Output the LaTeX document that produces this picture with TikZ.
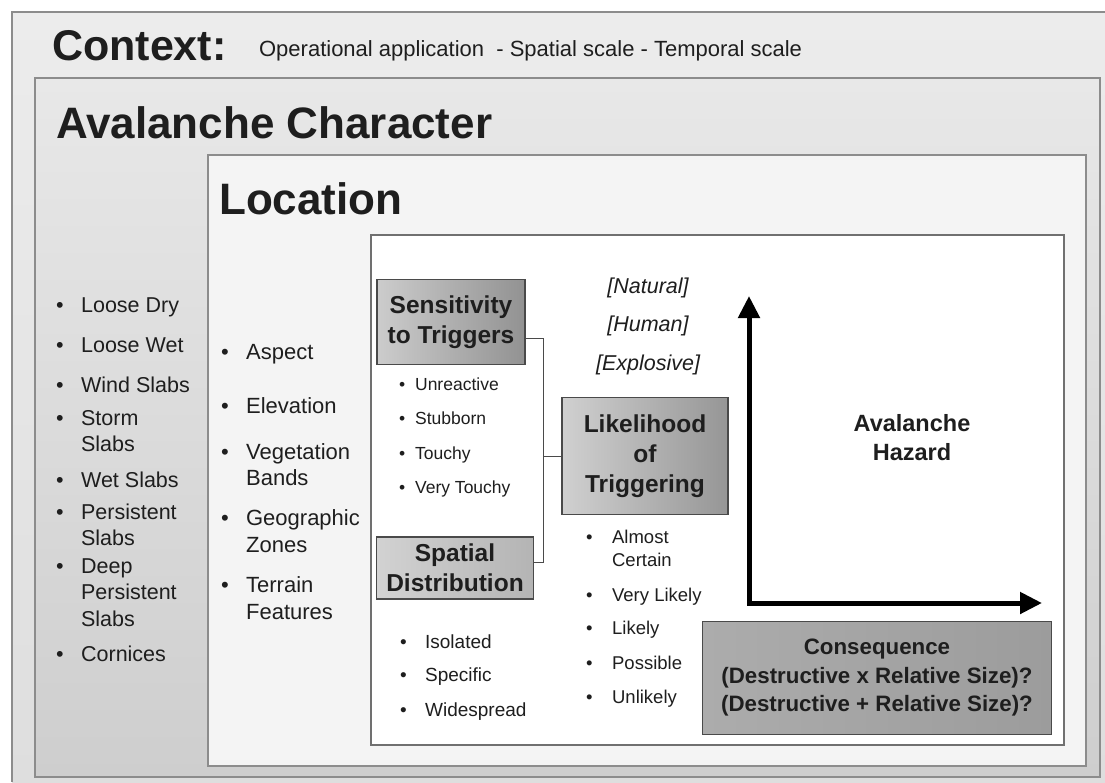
\documentclass[tikz,border=0pt]{standalone}
\usepackage{fontspec}
\setmainfont{Liberation Sans}
\usetikzlibrary{calc,arrows.meta}

\definecolor{rim}{HTML}{8C8C8C}
\definecolor{boxrim}{HTML}{4A4A4A}
\definecolor{ink}{HTML}{1E1E1E}

\tikzset{every picture/.style={line width=0.75pt}}
\tikzset{
  li/.style={anchor=base west, inner sep=0.75pt, text=ink, font=\fontsize{#1}{#1}\selectfont},
  ttl/.style={anchor=base west, inner sep=0.75pt, text=ink, font=\bfseries\fontsize{#1}{#1}\selectfont},
  bx/.style={draw=boxrim, line width=1.2pt, align=center, inner sep=0pt, text=ink,
    font=\bfseries\fontsize{24.5}{30}\selectfont},
  trg/.style={anchor=base, inner sep=0.75pt, text=ink, font=\itshape\fontsize{21.5}{25}\selectfont},
  link/.style={draw=boxrim, line width=1pt},
  axis/.style={line width=5pt, {Triangle[length=22pt,width=21pt]}-{Triangle[length=22pt,width=21pt]}}
}

\begin{document}
\begin{tikzpicture}[x=1pt,y=1pt,yscale=-1,xscale=1]
\useasboundingbox (0,0) rectangle (1105,782);

%Frames
\fill[white] (0,0) rectangle (1105,782);
\fill[top color={rgb,255:red,236;green,236;blue,236}, bottom color={rgb,255:red,222;green,222;blue,222}] (12,12) rectangle (1105,782);
\draw[rim, line width=1.2pt] (12,782) -- (12,12) -- (1105,12);
\draw[rim, line width=1.2pt, top color={rgb,255:red,232;green,232;blue,232}, bottom color={rgb,255:red,206;green,206;blue,206}] (35,78) rectangle (1100,777);
\draw[rim, line width=1.2pt, fill={rgb,255:red,244;green,244;blue,244}] (208,155) rectangle (1086,766);
\draw[rim!80!black, line width=1.2pt, fill=white] (371,235) rectangle (1064,745);

% Titles (y = baseline)
\node[ttl=43] (ctx) at (51,60) {Context:};
\node[li=22] (ctxsub) at (258,56) {Operational application \ - Spatial scale - Temporal scale};
\node[ttl=44] (avc) at (55,138) {Avalanche Character};
\node[ttl=44] (loc) at (218,214) {Location};

% Avalanche character list
\foreach \t/\y in {Loose Dry/305, Loose Wet/345, Wind Slabs/385, Storm/418, Slabs/444, Wet Slabs/480, Persistent/512, Slabs/538, Deep/566, Persistent/592, Slabs/619, Cornices/654}
  \node[li=21.5] (ch\y) at (80,\y+7.7) {\t};
\foreach \y in {305,345,385,418,480,512,566,654}
  \node[li=21.5] (chb\y) at (55,\y+7.7) {\textbullet};

% Location list
\foreach \t/\y in {Aspect/352, Elevation/406, Vegetation/452, Bands/478, Geographic/518, Zones/545, Terrain/585, Features/612}
  \node[li=22] (lc\y) at (245,\y+7.9) {\t};
\foreach \y in {352,406,452,518,585}
  \node[li=22] (lcb\y) at (220,\y+7.9) {\textbullet};

% Boxes
\node[bx, minimum width=148pt, minimum height=85pt, left color={rgb,255:red,204;green,204;blue,204}, right color={rgb,255:red,146;green,146;blue,146}] (sens) at (451,322) {Sensitivity\\to Triggers};
\node[bx, minimum width=166pt, minimum height=117pt, left color={rgb,255:red,208;green,208;blue,208}, right color={rgb,255:red,150;green,150;blue,150}] (likely) at (645,456) {Likelihood\\of\\Triggering};
\node[bx, minimum width=157pt, minimum height=62pt, left color={rgb,255:red,210;green,210;blue,210}, right color={rgb,255:red,180;green,180;blue,180}] (spatial) at (455,568) {Spatial\\Distribution};
\node[bx, minimum width=349pt, minimum height=113pt, font=\bfseries\fontsize{22.3}{28.5}\selectfont, left color={rgb,255:red,172;green,172;blue,172}, middle color={rgb,255:red,210;green,210;blue,210}, right color={rgb,255:red,156;green,156;blue,156}] (conseq) at (877,678) {Consequence\\(Destructive x Relative Size)?\\(Destructive + Relative Size)?};

% Connectors
\coordinate (jn) at ($(likely.west)+(-18,0)$);
\draw[link] ($(sens.east)+(0,16)$) -| (jn) |- ($(spatial.east)+(0,-6)$);
\draw[link] (jn) -- (likely.west);

% Sensitivity list
\foreach \t/\y in {Unreactive/384, Stubborn/418, Touchy/453, Very Touchy/487}
  {\node[li=17.5] (sn\y) at (414,\y+6.3) {\t};
   \node[li=17.5] (snb\y) at (398,\y+6.3) {\textbullet};}

% Spatial list
\foreach \t/\y in {Isolated/642, Specific/675, Widespread/710}
  {\node[li=19] (sp\y) at (424,\y+6.8) {\t};
   \node[li=19] (spb\y) at (399,\y+6.8) {\textbullet};}

% Likelihood list
\foreach \t/\y in {Almost/537, Certain/560, Very Likely/595, Likely/628, Possible/663, Unlikely/697}
  \node[li=18.5] (lk\y) at (611,\y+6.7) {\t};
\foreach \y in {537,595,628,663,697}
  \node[li=18.5] (lkb\y) at (585,\y+6.7) {\textbullet};

% Triggers
\node[trg] (nat) at (648,293) {[Natural]};
\node[trg] (hum) at (648,331) {[Human]};
\node[trg] (expl) at (648,370) {[Explosive]};

% Hazard axes
\coordinate (org) at (749,603);
\coordinate (ytop) at (749,296);
\coordinate (xend) at (1042,603);
\draw[axis] (ytop) -- (org) -- (xend);
\node[align=center, inner sep=0.75pt, text=ink, font=\bfseries\fontsize{23.5}{29}\selectfont] (haz) at (912,438) {Avalanche\\Hazard};

\end{tikzpicture}
\end{document}
